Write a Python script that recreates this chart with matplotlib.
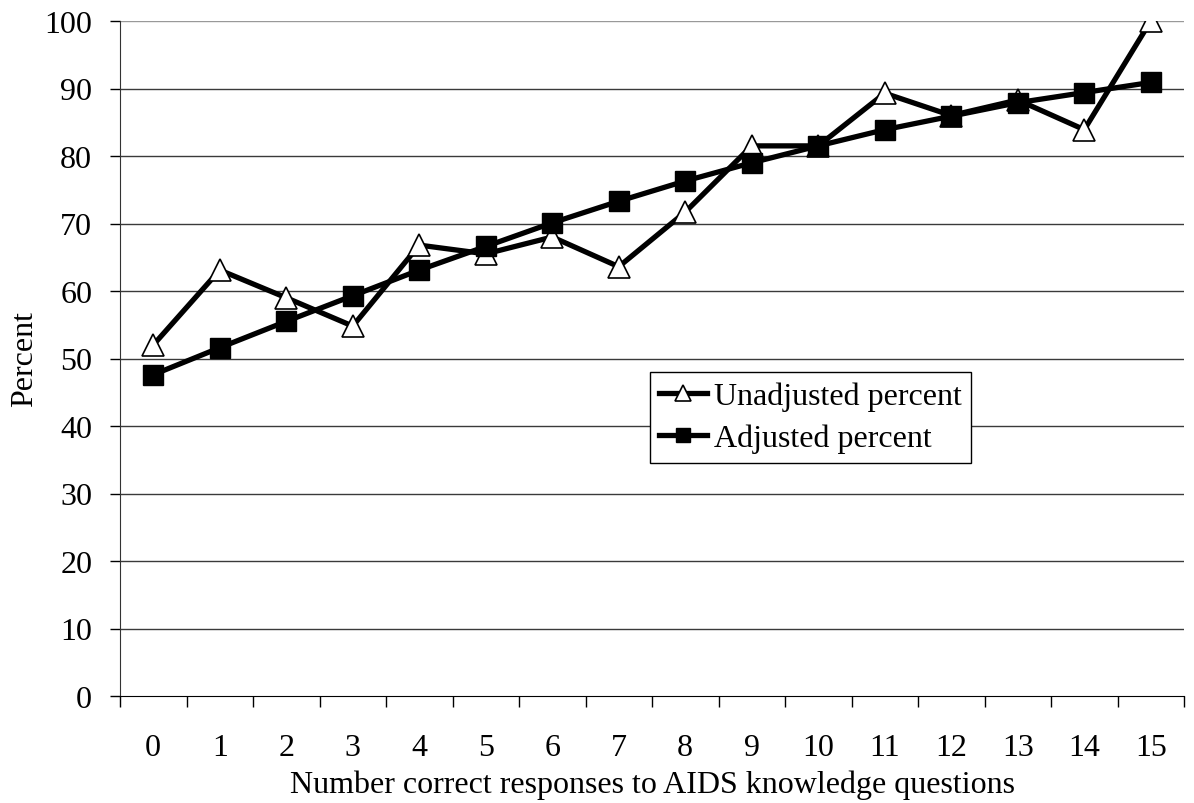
import numpy as np
import matplotlib
matplotlib.use("Agg")
import matplotlib.pyplot as plt

plt.rcParams['font.family'] = ['Liberation Serif', 'DejaVu Serif']

correct = list(range(16))
unadjusted = [52.0, 63.1, 59.0, 54.8, 66.8, 65.5, 68.0, 63.6, 71.7, 81.5,
              81.5, 89.3, 86.0, 88.3, 83.9, 100.0]
adjusted = [47.6, 51.6, 55.5, 59.3, 63.1, 66.6, 70.1, 73.3, 76.3, 79.0,
            81.5, 83.9, 85.9, 87.9, 89.4, 90.9]
y_ticks = list(range(0, 101, 10))

fig = plt.figure(figsize=(11.94, 8.04), dpi=100)
ax = fig.add_axes([120 / 1194, 1 - 697 / 804, 1064 / 1194, 675 / 804])

ax.plot(correct, unadjusted, color='black', lw=3.8, marker='^', ms=16,
        mfc='white', mec='black', mew=1.2, label='Unadjusted percent', zorder=3)
ax.plot(correct, adjusted, color='black', lw=3.8, marker='s', ms=14,
        mfc='black', mec='black', label='Adjusted percent', zorder=4)

ax.set_xlim(-0.5, 15.5)
ax.set_ylim(0, 100)
ax.set_yticks(y_ticks)
ax.set_xticks(correct)
ax.set_xticks(np.arange(-0.5, 16, 1), minor=True)
ax.tick_params(axis='x', which='major', length=0, pad=27, labelsize=23)
ax.tick_params(axis='x', which='minor', length=8, width=1, direction='out')
ax.tick_params(axis='y', length=7, width=1, pad=13, labelsize=23)

for v in y_ticks[1:]:
    ax.axhline(v, color='#3a3a3a' if v < 100 else '#999999', lw=1, zorder=1)

for s in ['top', 'right']:
    ax.spines[s].set_visible(False)
ax.spines['left'].set_color('#333333')
ax.spines['bottom'].set_color('black')

ax.set_xlabel('Number correct responses to AIDS knowledge questions', fontsize=23, labelpad=5)
ax.set_ylabel('Percent', fontsize=23, labelpad=4)

leg = ax.legend(loc='upper left', bbox_to_anchor=(0.498, 0.48), fontsize=23,
                frameon=True, fancybox=False, edgecolor='black', framealpha=1,
                handlelength=1.5, handletextpad=0.2, borderpad=0.3, labelspacing=0.4,
                borderaxespad=0, markerscale=0.75)
leg.get_frame().set_linewidth(1)

fig.savefig('out.png', dpi=100, facecolor='white')
